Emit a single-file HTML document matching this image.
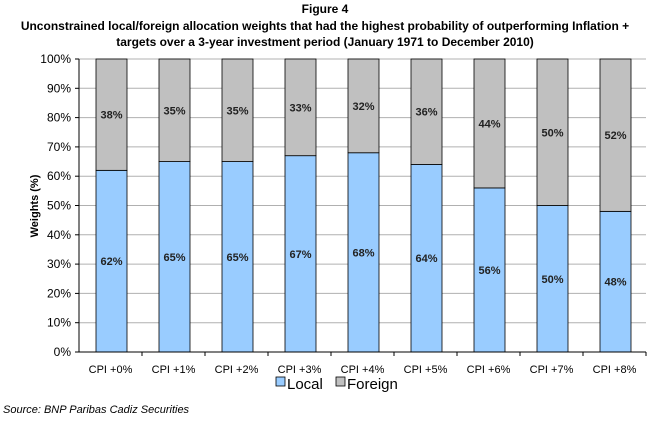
<!DOCTYPE html>
<html><head><meta charset="utf-8"><style>
body{margin:0;background:#fff;font-family:"Liberation Sans",Arial,sans-serif}
</style></head><body>
<svg width="650" height="418" xmlns="http://www.w3.org/2000/svg" font-family="Liberation Sans, Arial, sans-serif">
<text x="325" y="13" text-anchor="middle" font-size="12" font-weight="bold">Figure 4</text>
<text x="325" y="30" text-anchor="middle" font-size="12" font-weight="bold">Unconstrained local/foreign allocation weights that had the highest probability of outperforming Inflation +</text>
<text x="325" y="46" text-anchor="middle" font-size="12" font-weight="bold">targets over a 3-year investment period (January 1971 to December 2010)</text>
<g id="grid"></g>
<g id="bars"></g>
<g id="axes"></g>
<text transform="translate(38,206) rotate(-90)" text-anchor="middle" font-size="11" font-weight="bold">Weights (%)</text>
<rect x="276" y="377" width="9" height="9" fill="#99ccff" stroke="#000" stroke-width="0.8"/>
<text x="287" y="389" font-size="15">Local</text>
<rect x="336" y="377" width="9" height="9" fill="#c0c0c0" stroke="#000" stroke-width="0.8"/>
<text x="347" y="389" font-size="15">Foreign</text>
<text x="3" y="413" font-size="11" font-style="italic">Source: BNP Paribas Cadiz Securities</text>
</svg>
<script>
const categories=["CPI +0%","CPI +1%","CPI +2%","CPI +3%","CPI +4%","CPI +5%","CPI +6%","CPI +7%","CPI +8%"];
const localVals=[62,65,65,67,68,64,56,50,48];
const foreignVals=[38,35,35,33,32,36,44,50,52];
const yTicks=[0,10,20,30,40,50,60,70,80,90,100];
const NS="http://www.w3.org/2000/svg";
const X0=79,X1=646,Y0=352,Y1=59;
const cw=(X1-X0)/categories.length;
const y=v=>Y0-(Y0-Y1)*v/100;
function mk(t,a,p){const e=document.createElementNS(NS,t);for(const k in a)e.setAttribute(k,a[k]);p.appendChild(e);return e;}
const g=document.getElementById('grid'),b=document.getElementById('bars'),ax=document.getElementById('axes');
yTicks.forEach(t=>{
 if(t>0){const l=mk('line',{x1:X0,x2:X1,y1:y(t),y2:y(t),stroke:'#b0b0b0','stroke-width':1},g);
 
 }
 const tk=mk('line',{x1:X0-4,x2:X0,y1:y(t),y2:y(t),stroke:'#000'},ax);
 
 
 const tx=mk('text',{x:X0-8,y:y(t)+4,'text-anchor':'end','font-size':12},ax);tx.textContent=t+'%';
 
 
});
categories.forEach((c,i)=>{
 const bx=X0+i*cw+17,bw=31,cx=X0+i*cw+cw/2;
 const lr=mk('rect',{x:bx,y:y(localVals[i]),width:bw,height:Y0-y(localVals[i]),fill:'#99ccff',stroke:'#000','stroke-width':0.8},b);
 
 
 const fr=mk('rect',{x:bx,y:y(localVals[i]+foreignVals[i]),width:bw,height:y(localVals[i])-y(localVals[i]+foreignVals[i]),fill:'#c0c0c0',stroke:'#000','stroke-width':0.8},b);
 
 
 const lt=mk('text',{x:bx+bw/2,y:y(localVals[i]/2)+4,'text-anchor':'middle','font-size':11,'font-weight':'bold','fill':'#222'},b);lt.textContent=localVals[i]+'%';
 
 
 const ft=mk('text',{x:bx+bw/2,y:y(localVals[i]+foreignVals[i]/2)+4,'text-anchor':'middle','font-size':11,'font-weight':'bold','fill':'#222'},b);ft.textContent=foreignVals[i]+'%';
 
 
 const ct=mk('text',{x:cx,y:373,'text-anchor':'middle','font-size':11},ax);ct.textContent=c;
 
 
 const xt=mk('line',{x1:X0+(i+1)*cw,x2:X0+(i+1)*cw,y1:Y0,y2:Y0+4,stroke:'#000'},ax);
 
 
});
const ya=mk('line',{x1:X0,x2:X0,y1:Y1,y2:Y0,stroke:'#000'},ax);


const xa=mk('line',{x1:X0,x2:X1,y1:Y0,y2:Y0,stroke:'#000'},ax);


</script>
</body></html>
